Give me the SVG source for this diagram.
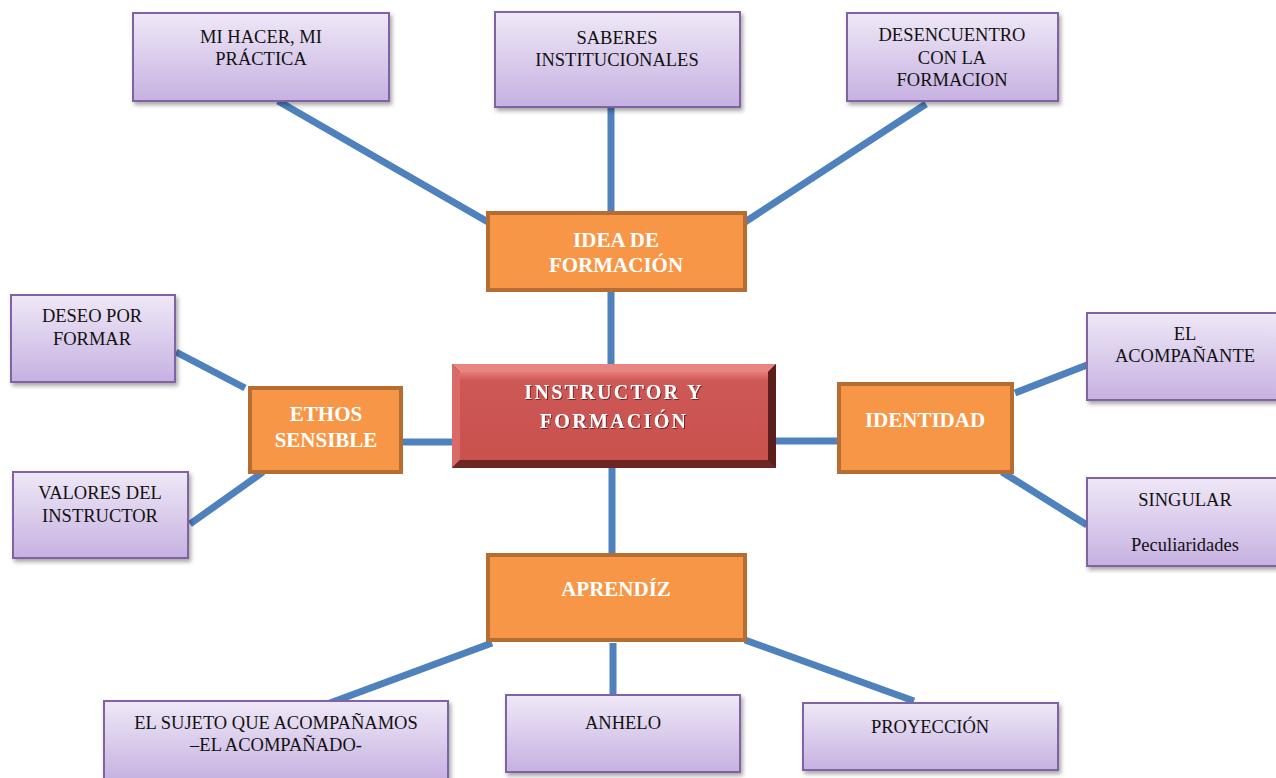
<svg xmlns="http://www.w3.org/2000/svg" width="1276" height="778" viewBox="0 0 1276 778">
<defs>
<linearGradient id="pg" x1="0" y1="0" x2="0" y2="1">
<stop offset="0" stop-color="#efe8f7"/>
<stop offset="1" stop-color="#c6b1e1"/>
</linearGradient>
<linearGradient id="rg" x1="0" y1="0" x2="0" y2="1">
<stop offset="0" stop-color="#e77a78"/>
<stop offset="0.1" stop-color="#cd5855"/>
<stop offset="1" stop-color="#c9514e"/>
</linearGradient>
<filter id="sh" x="-10%" y="-10%" width="130%" height="130%">
<feDropShadow dx="2" dy="3" stdDeviation="2" flood-color="#000" flood-opacity="0.35"/>
</filter>
<filter id="ts" x="-10%" y="-30%" width="120%" height="160%">
<feDropShadow dx="1" dy="1" stdDeviation="0.6" flood-color="#6a1e1c" flood-opacity="0.9"/>
</filter>
</defs>
<style>
.p{fill:url(#pg);stroke:#8064a2;stroke-width:2;filter:url(#sh)}
.o{fill:#f79646;stroke:#b66d31;stroke-width:4}
.t{font-family:"Liberation Serif",serif;font-size:18.5px;fill:#111;text-anchor:middle}
.b{font-family:"Liberation Serif",serif;font-size:21px;font-weight:bold;fill:#fff;text-anchor:middle}
.c{font-family:"Liberation Serif",serif;font-size:20px;font-weight:bold;fill:#fff;text-anchor:middle;letter-spacing:2.3px;filter:url(#ts)}
.l{stroke:#4f81bd;stroke-width:7;fill:none}
</style>
<g id="connectors">
<line class="l" x1="278" y1="101" x2="488" y2="222"/>
<line class="l" x1="611" y1="108" x2="611" y2="213"/>
<line class="l" x1="926" y1="104" x2="745" y2="222"/>
<line class="l" x1="611" y1="290" x2="611" y2="364"/>
<line class="l" x1="401" y1="442" x2="452" y2="442"/>
<line class="l" x1="176" y1="352" x2="245" y2="388"/>
<line class="l" x1="190" y1="524" x2="263" y2="472"/>
<line class="l" x1="776" y1="441" x2="839" y2="441"/>
<line class="l" x1="1015" y1="393" x2="1087" y2="365"/>
<line class="l" x1="1002" y1="472" x2="1087" y2="525"/>
<line class="l" x1="612" y1="468" x2="612" y2="555"/>
<line class="l" x1="330" y1="703" x2="492" y2="643"/>
<line class="l" x1="613" y1="643" x2="613" y2="695"/>
<line class="l" x1="745" y1="640" x2="914" y2="701"/>
</g>
<g id="mi-hacer">
<rect class="p" x="133" y="13" width="256" height="88"/>
<text class="t" x="261" y="43">MI HACER, MI</text>
<text class="t" x="261" y="65">PRÁCTICA</text>
</g>
<g id="saberes">
<rect class="p" x="495" y="12" width="245" height="95"/>
<text class="t" x="617" y="44">SABERES</text>
<text class="t" x="617" y="66">INSTITUCIONALES</text>
</g>
<g id="desencuentro">
<rect class="p" x="847" y="13" width="211" height="88"/>
<text class="t" x="952" y="41">DESENCUENTRO</text>
<text class="t" x="952" y="64">CON LA</text>
<text class="t" x="952" y="86">FORMACION</text>
</g>
<g id="deseo">
<rect class="p" x="11" y="295" width="164" height="87"/>
<text class="t" x="92" y="322">DESEO POR</text>
<text class="t" x="92" y="345">FORMAR</text>
</g>
<g id="valores">
<rect class="p" x="13" y="472" width="175" height="86"/>
<text class="t" x="100" y="499">VALORES DEL</text>
<text class="t" x="100" y="522">INSTRUCTOR</text>
</g>
<g id="acompanante">
<rect class="p" x="1087" y="313" width="192" height="87"/>
<text class="t" x="1185" y="340">EL</text>
<text class="t" x="1185" y="362">ACOMPAÑANTE</text>
</g>
<g id="singular">
<rect class="p" x="1087" y="478" width="192" height="88"/>
<text class="t" x="1185" y="506">SINGULAR</text>
<text class="t" x="1185" y="551">Peculiaridades</text>
</g>
<g id="sujeto">
<rect class="p" x="104" y="701" width="344" height="80"/>
<text class="t" x="276" y="729">EL SUJETO QUE ACOMPAÑAMOS</text>
<text class="t" x="276" y="751">–EL ACOMPAÑADO-</text>
</g>
<g id="anhelo">
<rect class="p" x="506" y="695" width="234" height="77"/>
<text class="t" x="623" y="729">ANHELO</text>
</g>
<g id="proyeccion">
<rect class="p" x="803" y="703" width="255" height="67"/>
<text class="t" x="930" y="733">PROYECCIÓN</text>
</g>
<g id="idea">
<rect class="o" x="488" y="213" width="257" height="77"/>
<text class="b" x="616" y="247">IDEA DE</text>
<text class="b" x="616" y="272">FORMACIÓN</text>
</g>
<g id="ethos">
<rect class="o" x="250" y="388" width="151" height="84"/>
<text class="b" x="326" y="421">ETHOS</text>
<text class="b" x="326" y="447">SENSIBLE</text>
</g>
<g id="identidad">
<rect class="o" x="839" y="384" width="173" height="88"/>
<text class="b" x="925" y="427">IDENTIDAD</text>
</g>
<g id="aprendiz">
<rect class="o" x="488" y="555" width="257" height="85"/>
<text class="b" x="616" y="596">APRENDÍZ</text>
</g>
<g id="center">
<rect x="452" y="364" width="324" height="104" fill="#7a2a28"/>
<polygon points="452,364 776,364 768,372 460,372" fill="#e88583"/>
<polygon points="452,364 460,372 460,460 452,468" fill="#d86a68"/>
<polygon points="776,364 776,468 768,460 768,372" fill="#5a1e1c"/>
<polygon points="452,468 460,460 768,460 776,468" fill="#6d2624"/>
<rect x="460" y="372" width="308" height="88" fill="url(#rg)"/>
<text class="c" x="614" y="399">INSTRUCTOR Y</text>
<text class="c" x="614" y="428">FORMACIÓN</text>
</g>
</svg>
